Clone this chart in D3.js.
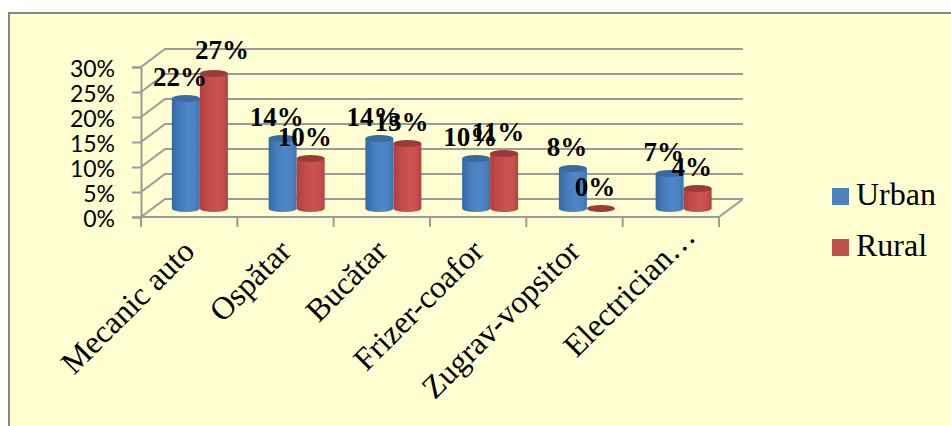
<!DOCTYPE html>
<html>
<head>
<meta charset="utf-8">
<script src="https://cdn.jsdelivr.net/npm/d3@7"></script>
<style>
  html, body { margin: 0; padding: 0; background: #fff; }
  svg { display: block; }
</style>
</head>
<body>
<svg id="chart" width="951" height="426"></svg>
<script>
const categories = ["Mecanic auto", "Ospătar", "Bucătar", "Frizer-coafor", "Zugrav-vopsitor", "Electrician…"];
const urban = [22, 14, 14, 10, 8, 7];
const rural = [27, 10, 13, 11, 0, 4];
const seriesNames = ["Urban", "Rural"];
const yTicks = [0, 5, 10, 15, 20, 25, 30];

const serif = "'Liberation Serif', 'Times New Roman', serif";
const grid = "#9a9a9a";

const svg = d3.select("#chart");

// chart area frame
svg.append("rect")
  .attr("x", 9).attr("y", 13)
  .attr("width", 960).attr("height", 430)
  .attr("fill", "#ffffd1")
  .attr("stroke", "#868686")
  .attr("stroke-width", 2);

// fake 3d: back wall sits up and to the right of the front plane
const depthX = 24, depthY = -18;
const left = 141, right = 719;

const xBand = d3.scaleBand().domain(categories).range([left, right]);
const xBars = d3.scaleBand().domain(categories).range([left + 0.5, right + 3]);
const yFront = d3.scaleLinear().domain([0, 30]).range([217, 67]);
const yBar = d3.scaleLinear().domain([0, 30]).range([208.5, 58.5]);

// gridlines, wall and floor
const walls = svg.append("g").attr("fill", "none").attr("stroke", grid).attr("stroke-width", 2);
yTicks.forEach(t => {
  walls.append("path")
    .attr("d", d3.line()([
      [left, yFront(t)],
      [left + depthX, yFront(t) + depthY],
      [right + depthX, yFront(t) + depthY]
    ]));
});
walls.append("line")
  .attr("x1", right).attr("y1", yFront(0))
  .attr("x2", right + depthX).attr("y2", yFront(0) + depthY);

// y axis
const yAxis = svg.append("g")
  .attr("transform", `translate(${left},0)`)
  .call(d3.axisLeft(yFront).tickValues(yTicks).tickSize(9).tickPadding(17).tickFormat(d => d + "%"));
yAxis.select(".domain").attr("stroke", grid).attr("stroke-width", 2);
yAxis.selectAll(".tick line").attr("stroke", grid).attr("stroke-width", 2);
yAxis.selectAll("text")
  .attr("fill", "#000")
  .attr("dy", "0.42em")
  .style("font-family", "Lato, sans-serif")
  .style("font-size", "23px");

// x axis: ticks on the band edges, labels rotated
const xAxis = svg.append("g")
  .attr("transform", `translate(0,${yFront(0)})`)
  .call(d3.axisBottom(xBand).tickSize(0));
xAxis.select(".domain").remove();
xAxis.selectAll("text")
  .attr("fill", "#000")
  .attr("text-anchor", "end")
  // the truncated last label sits further along its slant
  .attr("transform", (d, i) => i === categories.length - 1 ? "translate(19,14) rotate(-45)" : "translate(0,29) rotate(-45)")
  .attr("dy", "0.32em")
  .attr("y", 0)
  .style("font-family", serif)
  .style("font-size", "32px");
const edges = categories.map(c => xBand(c)).concat([right]);
svg.append("g").selectAll("line")
  .data(edges)
  .join("line")
  .attr("x1", d => d).attr("x2", d => d)
  .attr("y1", yFront(0)).attr("y2", yFront(0) + 10)
  .attr("stroke", grid).attr("stroke-width", 2);
svg.append("line")
  .attr("x1", left).attr("x2", right)
  .attr("y1", yFront(0)).attr("y2", yFront(0))
  .attr("stroke", grid).attr("stroke-width", 2);

// cylinder shading
const defs = svg.append("defs");
function shade(id, stops) {
  const g = defs.append("linearGradient").attr("id", id);
  stops.forEach(s => g.append("stop").attr("offset", s[0]).attr("stop-color", s[1]));
}
shade("blueSide", [[0, "#3668a3"], [0.25, "#437ab9"], [0.6, "#4f87c9"], [0.85, "#4a80c0"], [1, "#3e71ad"]]);
shade("redSide", [[0, "#ad403d"], [0.25, "#bf4a47"], [0.6, "#cc5350"], [0.85, "#c64e4b"], [1, "#ae423f"]]);

const palette = [
  { side: "url(#blueSide)", top: "#3a6a9e", legend: "#4f81bd" },
  { side: "url(#redSide)", top: "#9a3b3a", legend: "#c0504d" }
];

const barW = 28, ry = 3.5;
const bars = [urban, rural];
const offset = [-14 + 10, 14 + 10];

function cylinder(cx, v, color) {
  const g = svg.append("g");
  const rx = barW / 2;
  if (v > 0) {
    const top = yBar(v), base = yBar(0);
    g.append("path")
      .attr("d", `M${cx - rx},${top}L${cx - rx},${base}A${rx},${ry} 0 0 0 ${cx + rx},${base}L${cx + rx},${top}Z`)
      .attr("fill", color.side);
    g.append("ellipse")
      .attr("cx", cx).attr("cy", top).attr("rx", rx).attr("ry", ry)
      .attr("fill", color.top);
  } else {
    g.append("ellipse")
      .attr("cx", cx).attr("cy", yBar(0)).attr("rx", rx).attr("ry", 3.5)
      .attr("fill", color.top);
  }
}

categories.forEach((c, i) => {
  const center = xBars(c) + xBars.bandwidth() / 2;
  bars.forEach((vals, s) => cylinder(center + offset[s], vals[i], palette[s]));
});

// value labels, drawn last because they overlap the bars
const labels = svg.append("g")
  .attr("text-anchor", "middle")
  .style("font-family", serif)
  .style("font-size", "27px")
  .style("font-weight", "bold")
  .attr("fill", "#000");
categories.forEach((c, i) => {
  const center = xBars(c) + xBars.bandwidth() / 2;
  bars.forEach((vals, s) => {
    const v = vals[i];
    const tall = v === d3.max(rural); // the 27% label was dragged off its bar
    labels.append("text")
      .attr("x", center + offset[s] + (tall ? 8 : -6))
      .attr("y", yBar(v) - (tall ? 15 : 13))
      .text(v + "%");
  });
});

// legend
const legend = svg.append("g");
seriesNames.forEach((name, i) => {
  const y = 196 + i * 51;
  legend.append("rect")
    .attr("x", 832).attr("y", y - 8)
    .attr("width", 17).attr("height", 17)
    .attr("fill", palette[i].legend);
  legend.append("text")
    .attr("x", 856).attr("y", y + 9)
    .style("font-family", serif)
    .style("font-size", "32px")
    .attr("fill", "#000")
    .text(name);
});
</script>
</body>
</html>
